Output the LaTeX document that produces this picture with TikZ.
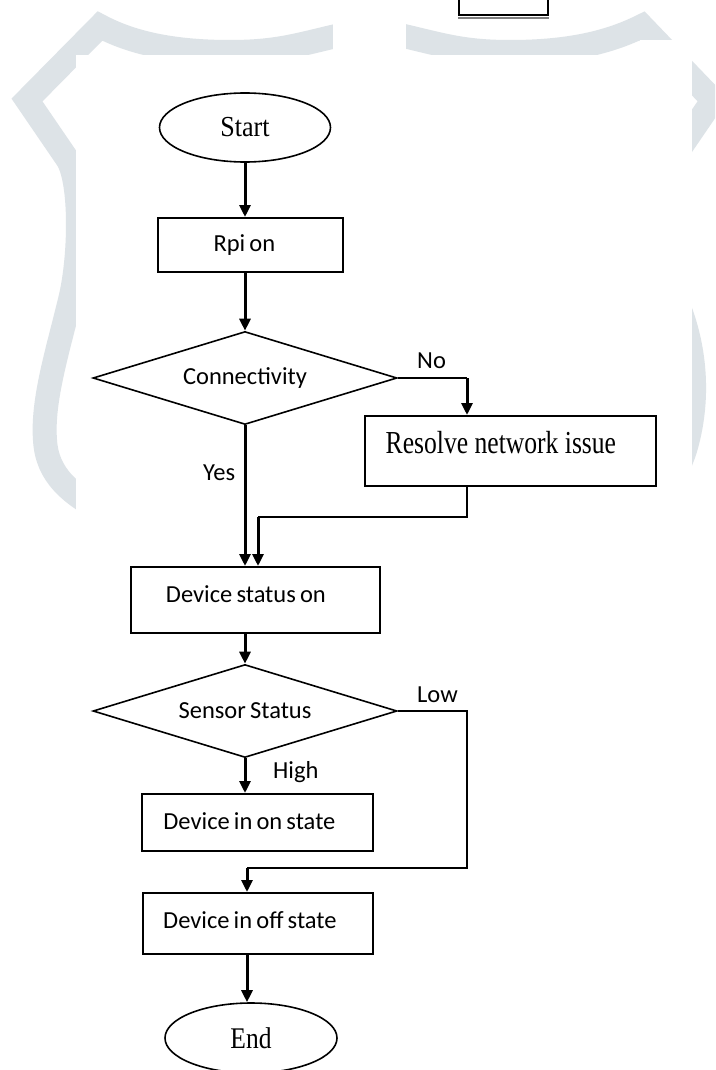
\documentclass[tikz,border=0pt]{standalone}
\usepackage{fontspec}
\setmainfont{Liberation Serif}
\newfontfamily\calib[WordSpace=0.75]{Carlito}
\usetikzlibrary{arrows.meta,shapes.geometric}
\definecolor{wm}{RGB}{221,227,231}
\begin{document}
\begin{tikzpicture}[x=1pt,y=-1pt,
  sansfont/.style={font=\calib\fontsize{24.5}{28}\selectfont},
  box/.style={draw, line width=1.8pt, rectangle, anchor=north west, inner sep=0pt, sansfont},
  dia/.style={draw, diamond, aspect=3.27, minimum width=304pt, minimum height=93pt, inner sep=0pt, line width=1.6pt, sansfont},
  term/.style={draw, ellipse, inner sep=0pt, line width=1.6pt},
  lbl/.style={inner sep=0pt, anchor=base west, sansfont},
  arr/.style={line width=3pt, -{Triangle[length=12pt,width=11pt]}},
  thinline/.style={line width=1.8pt},
  band/.style={wm, line width=24pt, line join=miter, miter limit=10}]
\clip (0,0) rectangle (715,1070);
\fill[white] (0,0) rectangle (715,1070);
% watermark shield
\draw[band] (345,34) .. controls (300,44) and (280,52) .. (230,52)
  .. controls (170,52) and (130,42) .. (100,26) -- (27,100) -- (68,160)
  .. controls (82,185) and (80,260) .. (70,300)
  .. controls (58,350) and (42,400) .. (45,440)
  .. controls (47,475) and (70,495) .. (110,515);
\draw[band] (395,34) .. controls (440,44) and (460,52) .. (510,52)
  .. controls (570,52) and (610,42) .. (642,26) -- (713,100) -- (672,160)
  .. controls (660,190) and (668,270) .. (680,310)
  .. controls (695,350) and (700,400) .. (685,450)
  .. controls (675,480) and (660,500) .. (630,520);
\fill[white] (76,55) rectangle (692,1070);
\fill[white] (333,0) rectangle (406,55);
\fill[white] (640,40) rectangle (692,63);
% small box at top
\fill[white] (459,-2) rectangle (548,15);
\draw[line width=1.2pt] (459,-2) -- (459,15) (548,15) -- (548,-2);
\draw[gray, line width=1.5pt] (458,18) -- (549,18);
\draw[line width=2.6pt] (458,15) -- (549,15);
% nodes
\node[term, minimum width=171pt, minimum height=69pt, font=\fontsize{29}{32}\selectfont] (start) at (245,127.5) {\scalebox{0.9}[1]{Start}};
\node[box, minimum width=185pt, text height=34pt, text depth=20pt] (rpi) at (157,217) {Rpi on\kern12pt};
\node[dia] (conn) at (245,378) {Connectivity};
\node[box, font=\fontsize{32}{36}\selectfont, minimum width=291pt, text height=38pt, text depth=32pt] (res) at (364,415) {\scalebox{0.8}[1]{Resolve network issue}\kern19pt};
\node[box, minimum width=249pt, text height=36pt, text depth=30pt] (dso) at (130,566) {Device status on\kern19pt};
\node[dia] (sens) at (245,711) {Sensor Status};
\node[box, minimum width=231pt, text height=36pt, text depth=21pt] (don) at (141,793) {Device in on state\kern16pt};
\node[box, minimum width=230pt, text height=36pt, text depth=25pt] (doff) at (142,892) {Device in off state\kern16pt};
\node[term, minimum width=172pt, minimum height=70pt, font=\fontsize{30}{34}\selectfont] (end) at (251,1038) {\scalebox{0.85}[1]{End}};
% labels
\node[lbl] (nolbl) at (417,368) {No};
\node[lbl] (yeslbl) at (203,480) {Yes};
\node[lbl] (highlbl) at (273,778) {High};
\node[lbl] (lowlbl) at (417,702) {Low};
% coordinates
\coordinate (nc) at (467,378);
\coordinate (m1) at (467,517);
\coordinate (m2) at (258,517);
\coordinate (l1) at (467,711);
\coordinate (l2) at (467,868);
\coordinate (l3) at (247,868);
% connectors
\draw[arr] (start.south) -- (start.south |- rpi.north);
\draw[arr] (conn.north |- rpi.south) -- (conn.north);
\draw[thinline] (conn.east) -- (nc);
\draw[arr] (nc) -- (nc |- res.north);
\draw[arr] (conn.south) -- (conn.south |- dso.north);
\draw[thinline] (m1 |- res.south) -- (m1) -- (m2);
\draw[arr] (m2) -- (m2 |- dso.north);
\draw[arr] (sens.north |- dso.south) -- (sens.north);
\draw[arr] (sens.south) -- (sens.south |- don.north);
\draw[thinline] (sens.east) -- (l1) -- (l2) -- (l3);
\draw[arr] (l3) -- (l3 |- doff.north);
\draw[arr] (l3 |- doff.south) -- (l3 |- end.north);
\end{tikzpicture}
\end{document}
